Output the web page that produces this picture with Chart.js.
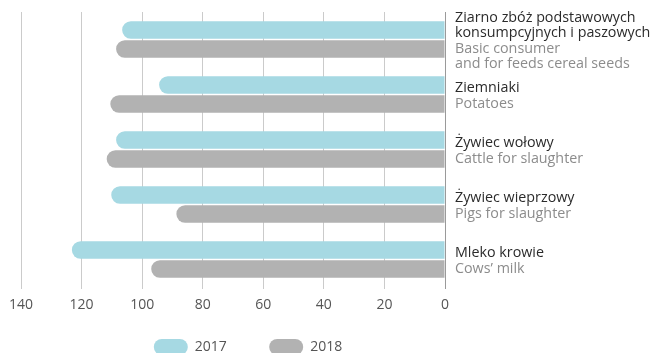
<!DOCTYPE html>
<html lang="pl">
<head>
<meta charset="utf-8">
<title>Ceny produktów rolnych 2017–2018</title>
<script src="https://cdn.jsdelivr.net/npm/chart.js@4.4.1/dist/chart.umd.min.js"></script>
<style>
	html, body { margin: 0; padding: 0; background: #fff; overflow: hidden; }
	#wrap { position: relative; width: 655px; height: 365px; }
</style>
</head>
<body>
<div id="wrap"><canvas id="priceChart"></canvas></div>
<script>
"use strict";

var categoriesPl = [
	["Ziarno zbóż podstawowych", "konsumpcyjnych i paszowych"],
	["Ziemniaki"],
	["Żywiec wołowy"],
	["Żywiec wieprzowy"],
	["Mleko krowie"]
];
var categoriesEn = [
	["Basic consumer", "and for feeds cereal seeds"],
	["Potatoes"],
	["Cattle for slaughter"],
	["Pigs for slaughter"],
	["Cows’ milk"]
];
var values2017 = [106.6, 94.4, 108.6, 110.2, 123.2];
var values2018 = [108.6, 110.5, 111.7, 88.7, 97.0];
var seriesNames = ["2017", "2018"];
var axisMax = 140;
var axisStep = 20;

var blue = '#a6d9e3';
var grey = '#b2b2b2';
var fontFamily = '"Open Sans", "Noto Sans", sans-serif';

// category names next to the bars, polish line dark and english line grey
var sideLabels = {
	id: 'sideLabels',
	afterDraw: function (chart) {
		var ctx = chart.ctx;
		var yScale = chart.scales.y;
		var x = chart.chartArea.right + 10;
		var lineH = 15.5;
		ctx.save();
		ctx.font = '14.3px ' + fontFamily;
		ctx.textAlign = 'left';
		ctx.textBaseline = 'middle';
		categoriesPl.forEach(function (pl, i) {
			var en = categoriesEn[i];
			var count = pl.length + en.length;
			var y = yScale.getPixelForValue(i) + 1.5 - (count - 1) * lineH / 2;
			pl.forEach(function (line) {
				ctx.fillStyle = '#2b2b2b';
				ctx.fillText(line, x, y);
				y += lineH;
			});
			en.forEach(function (line) {
				ctx.fillStyle = '#8c8c8c';
				ctx.fillText(line, x, y);
				y += lineH;
			});
		});
		ctx.restore();
	}
};

var ctx = document.getElementById("priceChart");
var data = {
	labels: categoriesPl.map(function (l) { return l.join(' '); }),
	datasets: [{
		label: seriesNames[0],
		data: values2017,
		backgroundColor: blue,
		borderWidth: 0,
		borderRadius: 10
	}, {
		label: seriesNames[1],
		data: values2018,
		backgroundColor: grey,
		borderWidth: 0,
		borderRadius: 10
	}]
};
var config = {
	type: 'bar',
	data: data,
	options: {
		indexAxis: 'y',
		responsive: true,
		maintainAspectRatio: false,
		animation: false,
		barPercentage: 0.92,
		categoryPercentage: 0.69,
		layout: {
			padding: { top: 12, left: 21, right: 180, bottom: 0 }
		},
		plugins: {
			tooltip: { enabled: false },
			legend: {
				position: 'bottom',
				labels: {
					boxWidth: 34,
					boxHeight: 16,
					useBorderRadius: true,
					borderRadius: 8,
					padding: 6,
					color: '#555',
					font: { family: fontFamily, size: 14 },
					generateLabels: function (chart) {
						var items = Chart.defaults.plugins.legend.labels.generateLabels(chart);
						// space between the two entries
						items[0].text = items[0].text + '          ';
						items.forEach(function (it) { it.lineWidth = 0; });
						return items;
					}
				}
			}
		},
		scales: {
			x: {
				reverse: true,
				min: 0,
				max: axisMax,
				ticks: {
					stepSize: axisStep,
					color: '#555',
					padding: 8,
					font: { family: fontFamily, size: 14 }
				},
				grid: {
					drawTicks: true,
					tickLength: 2,
					color: function (c) {
						return c.tick && c.tick.value === 0 ? '#9a9a9a' : '#cbcbcb';
					}
				},
				border: { display: false },
				afterFit: function (scale) { scale.height = 46; }
			},
			y: {
				position: 'right',
				ticks: { display: false },
				grid: { display: false },
				border: { display: false },
				afterFit: function (scale) { scale.width = 30; }
			}
		}
	},
	plugins: [sideLabels]
};
var priceChart = new Chart(ctx, config);
</script>
</body>
</html>
